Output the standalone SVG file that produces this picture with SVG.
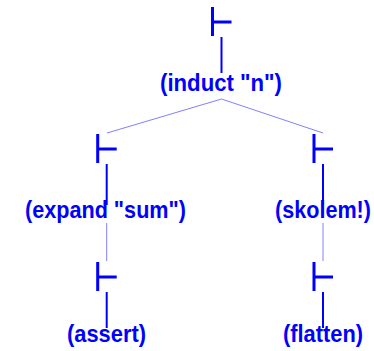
<svg xmlns="http://www.w3.org/2000/svg" xmlns:xlink="http://www.w3.org/1999/xlink" width="374" height="351" viewBox="0 0 374 351">
<style>
.ts{stroke:#0000ff;stroke-width:3;fill:none}
.stem{stroke:#0000ff;stroke-width:2}
.lbl{font-family:"Liberation Sans",Arial,sans-serif;font-weight:bold;font-size:24px;fill:#0000ff;text-anchor:middle}
.conn{stroke:#8080ff;stroke-width:1;fill:none}
</style>
<defs>
<g id="turnstile"><path class="ts" d="M-9,0V29M-9,15H10"/></g>
</defs>
<rect width="374" height="351" fill="#ffffff"/>
<g id="connectors">
<line class="conn" x1="221.5" y1="99" x2="107" y2="133"/>
<line class="conn" x1="221.5" y1="99" x2="323" y2="133"/>
<line class="conn" x1="106.7" y1="223" x2="106.7" y2="261"/>
<line class="conn" x1="323" y1="223" x2="323" y2="261"/>
</g>
<g id="node-induct">
<use xlink:href="#turnstile" x="221.5" y="7"/>
<line class="stem" x1="221.5" y1="37" x2="221.5" y2="73"/>
<text class="lbl" x="221" y="90.5" textLength="122" lengthAdjust="spacingAndGlyphs">(induct "n")</text>
</g>
<g id="node-expand">
<use xlink:href="#turnstile" x="106.7" y="134"/>
<line class="stem" x1="106.7" y1="164" x2="106.7" y2="205"/>
<text class="lbl" x="105.5" y="217.5" textLength="161" lengthAdjust="spacingAndGlyphs">(expand "sum")</text>
</g>
<g id="node-skolem">
<use xlink:href="#turnstile" x="323" y="134"/>
<line class="stem" x1="323" y1="164" x2="323" y2="205"/>
<text class="lbl" x="323" y="217.5" textLength="96" lengthAdjust="spacingAndGlyphs">(skolem!)</text>
</g>
<g id="node-assert">
<use xlink:href="#turnstile" x="106.7" y="262"/>
<line class="stem" x1="106.7" y1="292" x2="106.7" y2="328"/>
<text class="lbl" x="106.5" y="342" textLength="79" lengthAdjust="spacingAndGlyphs">(assert)</text>
</g>
<g id="node-flatten">
<use xlink:href="#turnstile" x="323" y="262"/>
<line class="stem" x1="323" y1="292" x2="323" y2="328"/>
<text class="lbl" x="323" y="342" textLength="80" lengthAdjust="spacingAndGlyphs">(flatten)</text>
</g>
</svg>
